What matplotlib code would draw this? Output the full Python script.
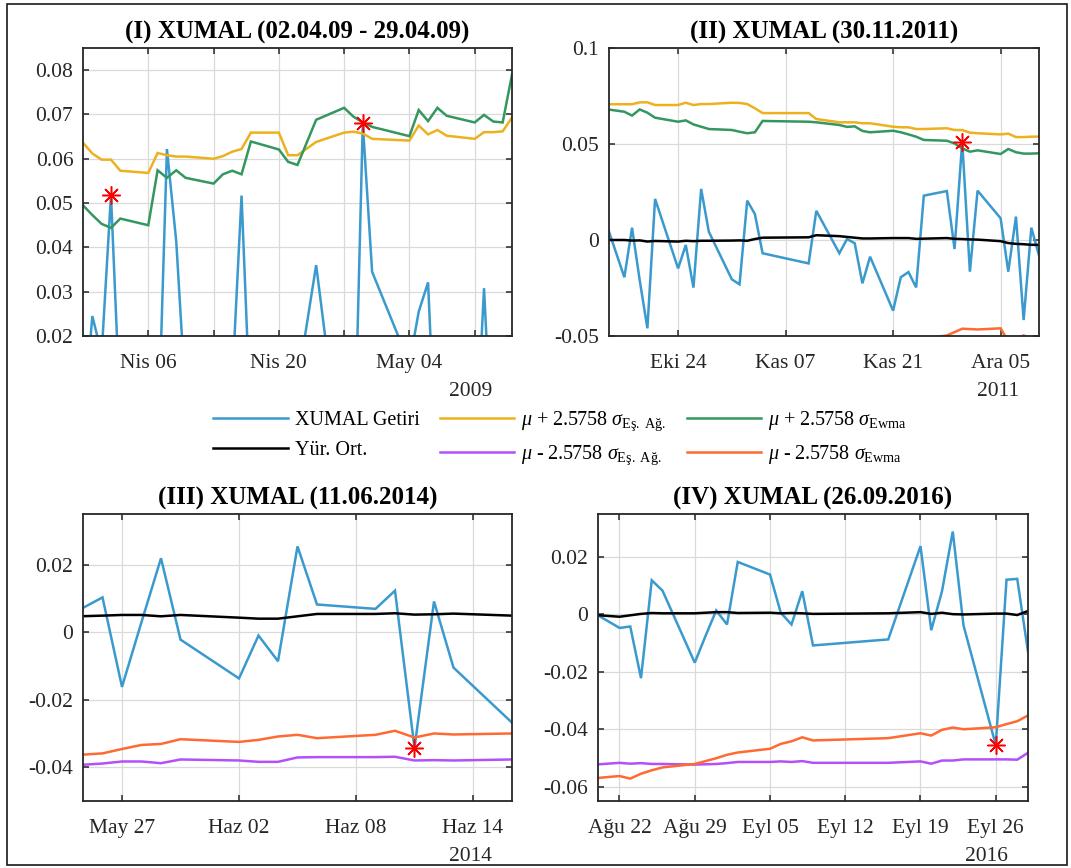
import numpy as np
import pandas as pd
import matplotlib
matplotlib.use('Agg')
import matplotlib.pyplot as plt
import matplotlib.dates as mdates
from matplotlib.lines import Line2D
from matplotlib.patches import Rectangle

plt.rcParams['font.family'] = ['Liberation Serif', 'DejaVu Serif']
plt.rcParams['mathtext.fontset'] = 'custom'
plt.rcParams['mathtext.rm'] = 'Liberation Serif'
plt.rcParams['mathtext.it'] = 'Liberation Serif:italic'
plt.rcParams['mathtext.bf'] = 'Liberation Serif:bold'

# ---------------- Panel I (2009) ----------------
dates_1 = ['2009-03-30', '2009-03-31', '2009-04-01', '2009-04-02', '2009-04-03',
           '2009-04-06', '2009-04-07', '2009-04-08', '2009-04-09', '2009-04-10',
           '2009-04-13', '2009-04-14', '2009-04-15', '2009-04-16', '2009-04-17',
           '2009-04-20', '2009-04-21', '2009-04-22', '2009-04-24',
           '2009-04-27', '2009-04-28', '2009-04-29', '2009-04-30',
           '2009-05-04', '2009-05-05', '2009-05-06', '2009-05-07', '2009-05-08',
           '2009-05-11', '2009-05-12', '2009-05-13', '2009-05-14', '2009-05-15']
getiri_1 = [-0.0005, 0.0245, 0.016, 0.0518, 0.002,
            -0.010, -0.007, 0.0622, 0.0413, 0.006,
            -0.005, -0.012, 0.0095, 0.0517, -0.001,
            0.005, -0.010, 0.0093, 0.036,
            -0.014, -0.016, 0.068, 0.0345,
            0.0138, 0.0255, 0.0321, -0.016, 0.0,
            -0.012, 0.0308, -0.012, -0.005, 0.010]
esag_ust_1 = [0.0636, 0.0612, 0.0598, 0.0598, 0.0573,
              0.0568, 0.0613, 0.0608, 0.0605, 0.0605,
              0.0600, 0.0606, 0.0616, 0.0622, 0.0659,
              0.0659, 0.0608, 0.0608, 0.0638,
              0.0659, 0.0661, 0.0657, 0.0645,
              0.0641, 0.0675, 0.0655, 0.0665, 0.0652,
              0.0645, 0.0660, 0.0660, 0.0662, 0.0693]
ewma_ust_1 = [0.0495, 0.0473, 0.0453, 0.0444, 0.0465,
              0.0450, 0.0574, 0.0557, 0.0574, 0.0557,
              0.0544, 0.0565, 0.0573, 0.0565, 0.0639,
              0.0621, 0.0593, 0.0586, 0.0688,
              0.0715, 0.0695, 0.0682, 0.0672,
              0.0651, 0.0710, 0.0685, 0.0715, 0.0697,
              0.0682, 0.0699, 0.0684, 0.0682, 0.0790]
star_dates_1 = ['2009-04-02', '2009-04-29']
star_vals_1 = [0.0518, 0.068]

# ---------------- Panel II (2011) ----------------
dates_2 = ['2011-10-14', '2011-10-17', '2011-10-18', '2011-10-19', '2011-10-20', '2011-10-21',
           '2011-10-24', '2011-10-25', '2011-10-26', '2011-10-27', '2011-10-28',
           '2011-10-31', '2011-11-01', '2011-11-02', '2011-11-03', '2011-11-04',
           '2011-11-10', '2011-11-11',
           '2011-11-14', '2011-11-15', '2011-11-16', '2011-11-17', '2011-11-18',
           '2011-11-21', '2011-11-22', '2011-11-23', '2011-11-24', '2011-11-25',
           '2011-11-28', '2011-11-29', '2011-11-30', '2011-12-01', '2011-12-02',
           '2011-12-05', '2011-12-06', '2011-12-07', '2011-12-08', '2011-12-09',
           '2011-12-12']
getiri_2 = [0.0162, -0.0194, 0.0064, -0.021, -0.046, 0.0214,
            -0.0148, -0.0026, -0.0248, 0.0266, 0.0043,
            -0.0205, -0.0231, 0.0205, 0.0135, -0.0069,
            -0.0122, 0.0152,
            -0.0069, 0.0005, -0.0017, -0.0226, -0.0087,
            -0.0368, -0.0194, -0.0167, -0.0247, 0.0231,
            0.0255, -0.0047, 0.0512, -0.0165, 0.0257,
            0.0113, -0.0165, 0.0122, -0.0417, 0.0064,
            -0.037]
ort_2 = [0.0, 0.0, -0.0003, -0.0002, -0.0008, -0.0005,
         -0.0008, -0.0004, -0.0006, -0.0004, -0.0004,
         -0.0003, -0.0002, -0.0004, 0.0005, 0.0012,
         0.0014, 0.0025,
         0.0020, 0.0016, 0.0012, 0.0008, 0.0008,
         0.0010, 0.0010, 0.0010, 0.0006, 0.0007,
         0.0010, 0.0006, 0.0005, 0.0003, 0.0002,
         -0.0006, -0.0016, -0.0020, -0.0022, -0.0025,
         -0.0027]
esag_ust_2 = [0.0707, 0.0707, 0.0707, 0.0717, 0.0717, 0.0703,
              0.0703, 0.0715, 0.0703, 0.0708, 0.0708,
              0.0715, 0.0714, 0.0708, 0.0686, 0.0661,
              0.0661, 0.0630,
              0.0613, 0.0613, 0.0613, 0.0608, 0.0608,
              0.0590, 0.0587, 0.0587, 0.0578, 0.0578,
              0.0582, 0.0573, 0.0573, 0.0559, 0.0556,
              0.0550, 0.0554, 0.0536, 0.0536, 0.0538,
              0.0540]
ewma_ust_2 = [0.0685, 0.0668, 0.0648, 0.0680, 0.0663, 0.0637,
              0.0616, 0.0623, 0.0602, 0.0590, 0.0578,
              0.0573, 0.0564, 0.0556, 0.0561, 0.0620,
              0.0616, 0.0613,
              0.0599, 0.0589, 0.0592, 0.0568, 0.0561,
              0.0569, 0.0561, 0.0550, 0.0538, 0.0521,
              0.0517, 0.0503, 0.0477, 0.0460, 0.0467,
              0.0448, 0.0474, 0.0457, 0.0450, 0.0450,
              0.0455]
ewma_alt_2 = [-0.066, -0.065, -0.064, -0.064, -0.063, -0.063,
              -0.062, -0.062, -0.061, -0.061, -0.060,
              -0.060, -0.059, -0.059, -0.059, -0.058,
              -0.058, -0.058,
              -0.057, -0.057, -0.057, -0.056, -0.056,
              -0.055, -0.055, -0.054, -0.054, -0.0515,
              -0.0497, -0.0480, -0.0462, -0.0464, -0.0466,
              -0.0460, -0.0530, -0.0520, -0.0497, -0.0515,
              -0.0520]
star_dates_2 = ['2011-11-30']
star_vals_2 = [0.0512]

# ---------------- Panel III (2014) ----------------
dates_3 = ['2014-05-23', '2014-05-26', '2014-05-27', '2014-05-28', '2014-05-29', '2014-05-30',
           '2014-06-02', '2014-06-03', '2014-06-04', '2014-06-05', '2014-06-06',
           '2014-06-09', '2014-06-10', '2014-06-11', '2014-06-12', '2014-06-13',
           '2014-06-16']
getiri_3 = [0.001, 0.0103, -0.0162, 0.003, 0.0219, -0.0022,
            -0.0137, -0.001, -0.0086, 0.0254, 0.0082,
            0.0069, 0.0123, -0.0343, 0.0091, -0.0105,
            -0.0268]
ort_3 = [0.0044, 0.0049, 0.0051, 0.0051, 0.0047, 0.0051,
         0.0043, 0.0040, 0.0040, 0.0047, 0.0054,
         0.0054, 0.0056, 0.0052, 0.0053, 0.0055,
         0.0049]
esag_alt_3 = [-0.0400, -0.0389, -0.0383, -0.0383, -0.0388, -0.0377,
              -0.0380, -0.0384, -0.0384, -0.0371, -0.0370,
              -0.0370, -0.0369, -0.0380, -0.0379, -0.0380,
              -0.0377]
ewma_alt_3 = [-0.0370, -0.0359, -0.0346, -0.0334, -0.0331, -0.0317,
              -0.0325, -0.0319, -0.0309, -0.0304, -0.0314,
              -0.0304, -0.0292, -0.0312, -0.0300, -0.0303,
              -0.0300]
star_dates_3 = ['2014-06-11']
star_vals_3 = [-0.0343]

# ---------------- Panel IV (2016) ----------------
dates_4 = ['2016-08-19', '2016-08-22', '2016-08-23', '2016-08-24', '2016-08-25', '2016-08-26',
           '2016-08-29', '2016-08-30', '2016-08-31', '2016-09-01', '2016-09-02',
           '2016-09-05', '2016-09-06', '2016-09-07', '2016-09-08', '2016-09-09',
           '2016-09-16',
           '2016-09-19', '2016-09-20', '2016-09-21', '2016-09-22', '2016-09-23',
           '2016-09-26', '2016-09-27', '2016-09-28', '2016-09-29']
getiri_4 = [0.0019, -0.0047, -0.0042, -0.0222, 0.0119, 0.0083,
            -0.0168, -0.0075, 0.0014, -0.0035, 0.0183,
            0.0139, 0.0006, -0.0035, 0.0081, -0.0108,
            -0.0087,
            0.0238, -0.0055, 0.0081, 0.0289, -0.0038,
            -0.0455, 0.0121, 0.0124, -0.0130]
ort_4 = [0.0, -0.0008, -0.0003, 0.0002, 0.0005, 0.0004,
         0.0004, 0.0006, 0.0008, 0.0008, 0.0005,
         0.0006, 0.0004, 0.0005, 0.0004, 0.0002,
         0.0004,
         0.0008, 0.0002, 0.0006, 0.0001, 0.0000,
         0.0003, 0.0003, -0.0002, 0.0012]
esag_alt_4 = [-0.0525, -0.0517, -0.0520, -0.0518, -0.0521, -0.0521,
              -0.0523, -0.0522, -0.0521, -0.0518, -0.0514,
              -0.0514, -0.0512, -0.0514, -0.0511, -0.0517,
              -0.0517,
              -0.0512, -0.0520, -0.0509, -0.0509, -0.0505,
              -0.0505, -0.0505, -0.0506, -0.0482]
ewma_alt_4 = [-0.0573, -0.0563, -0.0572, -0.0555, -0.0543, -0.0533,
              -0.0521, -0.0511, -0.0501, -0.0489, -0.0481,
              -0.0468, -0.0451, -0.0442, -0.0428, -0.0439,
              -0.0431,
              -0.0414, -0.0422, -0.0402, -0.0394, -0.0400,
              -0.0393, -0.0382, -0.0372, -0.0352]
star_dates_4 = ['2016-09-26']
star_vals_4 = [-0.0455]

# ---------------- Axis ticks / labels ----------------
titles = ['(I) XUMAL (02.04.09 - 29.04.09)', '(II) XUMAL (30.11.2011)',
          '(III) XUMAL (11.06.2014)', '(IV) XUMAL (26.09.2016)']
years = ['2009', '2011', '2014', '2016']
xlims = [('2009-03-30', '2009-05-15'), ('2011-10-15', '2011-12-10'),
         ('2014-05-25', '2014-06-16'), ('2016-08-20', '2016-09-29')]
xtick_dates = [['2009-04-06', '2009-04-13', '2009-04-20', '2009-04-27', '2009-05-04', '2009-05-11'],
               ['2011-10-24', '2011-11-07', '2011-11-21', '2011-12-05'],
               ['2014-05-27', '2014-06-02', '2014-06-08', '2014-06-14'],
               ['2016-08-22', '2016-08-29', '2016-09-05', '2016-09-12', '2016-09-19', '2016-09-26']]
xtick_labels = [['Nis 06', '', 'Nis 20', '', 'May 04', ''],
                ['Eki 24', 'Kas 07', 'Kas 21', 'Ara 05'],
                ['May 27', 'Haz 02', 'Haz 08', 'Haz 14'],
                ['Ağu 22', 'Ağu 29', 'Eyl 05', 'Eyl 12', 'Eyl 19', 'Eyl 26']]
ylims = [(0.02, 0.085), (-0.05, 0.1), (-0.05, 0.035), (-0.065, 0.035)]
ytick_vals = [[0.02, 0.03, 0.04, 0.05, 0.06, 0.07, 0.08],
              [-0.05, 0.0, 0.05, 0.1],
              [-0.04, -0.02, 0.0, 0.02],
              [-0.06, -0.04, -0.02, 0.0, 0.02]]
ytick_labels = [['0.02', '0.03', '0.04', '0.05', '0.06', '0.07', '0.08'],
                ['-0.05', '0', '0.05', '0.1'],
                ['-0.04', '-0.02', '0', '0.02'],
                ['-0.06', '-0.04', '-0.02', '0', '0.02']]

labels = ['XUMAL Getiri', 'Yür. Ort.',
          r'$\mu$ + 2.5758 $\sigma_{\mathrm{Eş.\ Ağ.}}$', r'$\mu$ - 2.5758 $\sigma_{\mathrm{Eş.\ Ağ.}}$',
          r'$\mu$ + 2.5758 $\sigma_{\mathrm{Ewma}}$', r'$\mu$ - 2.5758 $\sigma_{\mathrm{Ewma}}$']

C_BLUE = '#3A9ACE'
C_YEL = '#EDB120'
C_GRN = '#33975F'
C_BLK = '#000000'
C_PUR = '#B450FA'
C_ORG = '#FF6A33'
AX_C = '#262626'
LW = 1.8

W, H = 1071, 868
fig = plt.figure(figsize=(W / 100, H / 100), dpi=100)

def rect(x0, y0, x1, y1):
    return [x0 / W, 1 - y1 / H, (x1 - x0) / W, (y1 - y0) / H]

axes = [fig.add_axes(rect(83, 48, 512, 336)),
        fig.add_axes(rect(609, 48, 1039, 336)),
        fig.add_axes(rect(83, 514, 512, 801)),
        fig.add_axes(rect(598, 514, 1028, 801))]

def D(lst):
    return pd.to_datetime(lst)

panels = [
    dict(dates=dates_1, series=[(getiri_1, C_BLUE), (esag_ust_1, C_YEL), (ewma_ust_1, C_GRN)],
         stars=(star_dates_1, star_vals_1)),
    dict(dates=dates_2, series=[(getiri_2, C_BLUE), (esag_ust_2, C_YEL), (ewma_ust_2, C_GRN),
                                (ort_2, C_BLK), (ewma_alt_2, C_ORG)],
         stars=(star_dates_2, star_vals_2)),
    dict(dates=dates_3, series=[(getiri_3, C_BLUE), (ort_3, C_BLK), (esag_alt_3, C_PUR),
                                (ewma_alt_3, C_ORG)],
         stars=(star_dates_3, star_vals_3)),
    dict(dates=dates_4, series=[(getiri_4, C_BLUE), (ort_4, C_BLK), (esag_alt_4, C_PUR),
                                (ewma_alt_4, C_ORG)],
         stars=(star_dates_4, star_vals_4)),
]

for i, (ax, p) in enumerate(zip(axes, panels)):
    x = D(p['dates'])
    for vals, col in p['series']:
        ax.plot(x, vals, color=col, lw=LW, solid_joinstyle='miter')
    sd, sv = p['stars']
    ax.plot(D(sd), sv, linestyle='none', marker=(8, 2, 0), markersize=13,
            markeredgecolor='#FF0000', markeredgewidth=1.1, zorder=5)
    ax.set_xlim(D(list(xlims[i])))
    ax.set_ylim(*ylims[i])
    ax.set_xticks(D(xtick_dates[i]))
    ax.set_xticklabels(xtick_labels[i])
    ax.set_yticks(ytick_vals[i])
    ax.set_yticklabels(ytick_labels[i])
    ax.grid(True, color='#DADADA', lw=0.9)
    ax.set_axisbelow(True)
    ax.tick_params(direction='in', length=4, width=1.1, colors=AX_C, labelsize=15.5,
                   top=True, right=True)
    ax.tick_params(axis='x', pad=13)
    ax.tick_params(axis='y', pad=7)
    for s in ax.spines.values():
        s.set_color(AX_C)
        s.set_linewidth(1.3)
    ax.set_title(titles[i], fontsize=18, fontweight='bold', pad=7)
    ax.text(1 - 20 / 430, -0.194, years[i], transform=ax.transAxes, ha='right',
            va='center', fontsize=15.5, color=AX_C)

handles = [Line2D([], [], color=C_BLUE, lw=LW), Line2D([], [], color=C_BLK, lw=LW),
           Line2D([], [], color=C_YEL, lw=LW), Line2D([], [], color=C_PUR, lw=LW),
           Line2D([], [], color=C_GRN, lw=LW), Line2D([], [], color=C_ORG, lw=LW)]
fig.legend(handles, labels, ncol=3, loc='center', bbox_to_anchor=(560 / W, 1 - 438 / H),
           frameon=False, fontsize=14.5, handlelength=3.7, handletextpad=0.35,
           columnspacing=1.0, labelspacing=0.55)

fig.add_artist(Rectangle((7 / W, 1 - 865 / H), 1060 / W, 861 / H, transform=fig.transFigure,
                         fill=False, ec='#1a1a1a', lw=1.2))

fig.savefig('out.png', dpi=100)
